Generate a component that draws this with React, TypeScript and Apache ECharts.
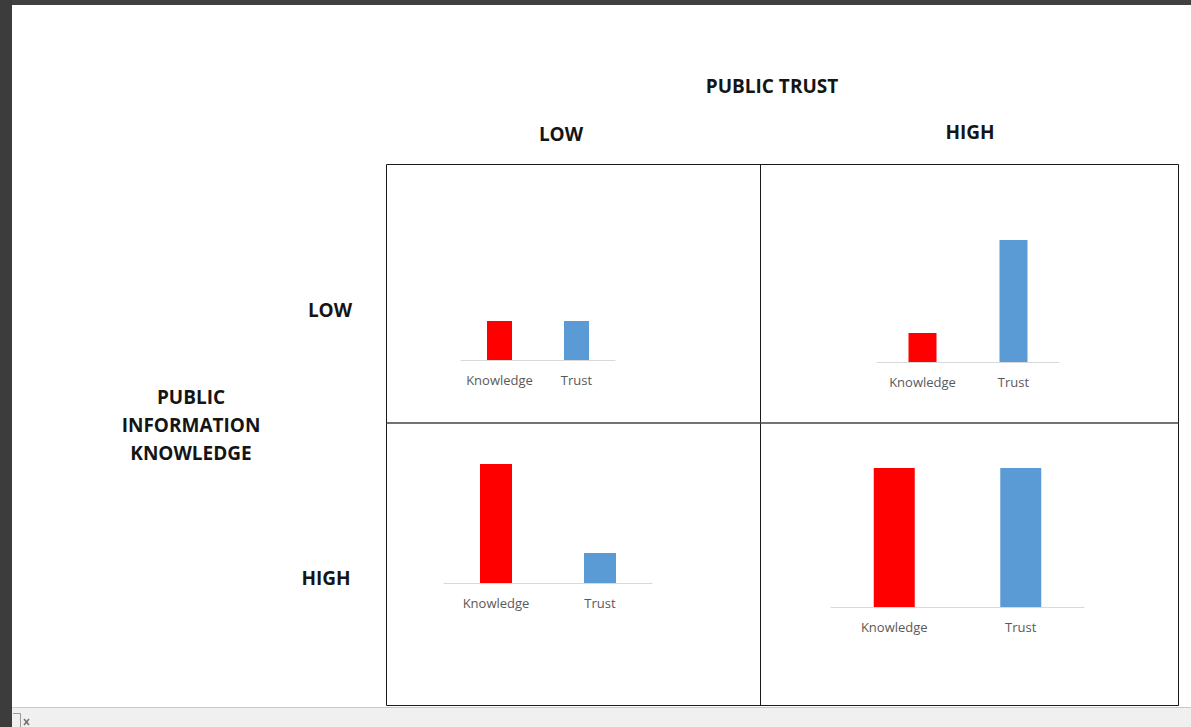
import React, { useEffect, useRef } from "react";
import * as echarts from "echarts";

// ---- data ----
const categories = ["Knowledge", "Trust"];
// bar heights (relative units, each panel is its own small chart)
const lowKnowledgeLowTrust = [39, 39];
const lowKnowledgeHighTrust = [29, 122];
const highKnowledgeLowTrust = [119, 30];
const highKnowledgeHighTrust = [139, 139];
const barColors = ["#ff0000", "#5b9bd5"];

const topTitle = "PUBLIC TRUST";
const colLabels = ["LOW", "HIGH"];
const rowLabels = ["LOW", "HIGH"];
const sideTitle = ["PUBLIC", "INFORMATION", "KNOWLEDGE"];

export default function App() {
  const ref = useRef<HTMLDivElement>(null);
  useEffect(() => {
    if (!ref.current) return;
    const chart = echarts.init(ref.current, undefined, { renderer: "svg" });

    const panels = [
      { data: lowKnowledgeLowTrust, left: 461, width: 154, base: 360, bw: 25 },
      { data: lowKnowledgeHighTrust, left: 877, width: 182, base: 362, bw: 28 },
      { data: highKnowledgeLowTrust, left: 444, width: 208, base: 583, bw: 32 },
      { data: highKnowledgeHighTrust, left: 831, width: 253, base: 607, bw: 41 },
    ];
    const H = 160;

    const grid = panels.map((p) => ({
      left: p.left,
      width: p.width,
      top: p.base - H,
      height: H,
      containLabel: false,
    }));
    const xAxis = panels.map((_, i) => ({
      type: "category" as const,
      gridIndex: i,
      data: categories,
      axisLine: { show: true, lineStyle: { color: "#d9d9d9", width: 1 } },
      axisTick: { show: false },
      axisLabel: {
        color: "#595959",
        fontFamily: "Open Sans",
        fontSize: 13,
        margin: 13,
        interval: 0,
        hideOverlap: false,
      },
      splitLine: { show: false },
    }));
    const yAxis = panels.map((_, i) => ({
      type: "value" as const,
      gridIndex: i,
      min: 0,
      max: H,
      show: false,
      splitLine: { show: false },
    }));
    const series = panels.map((p, i) => ({
      type: "bar" as const,
      xAxisIndex: i,
      yAxisIndex: i,
      barWidth: p.bw,
      data: p.data.map((v, j) => ({ value: v, itemStyle: { color: barColors[j] } })),
    }));

    const titleFont = {
      fontFamily: "Open Sans",
      fontWeight: "bold" as const,
      fontSize: 19,
      fill: "#151515",
      textAlign: "center" as const,
      textVerticalAlign: "middle" as const,
    };

    const boxLine = { stroke: "#1a1a1a", lineWidth: 1 };

    const graphic: any[] = [
      // window frame
      { type: "rect", shape: { x: 0, y: 0, width: 1191, height: 5 }, style: { fill: "#404040" }, silent: true },
      { type: "rect", shape: { x: 0, y: 0, width: 12, height: 727 }, style: { fill: "#3c3c3c" }, silent: true },
      { type: "rect", shape: { x: 12, y: 707, width: 1179, height: 20 }, style: { fill: "#f0f0f0" }, silent: true },
      { type: "line", shape: { x1: 12, y1: 707.5, x2: 1191, y2: 707.5 }, style: { stroke: "#c8c8c8", lineWidth: 1 }, silent: true },
      { type: "polyline", shape: { points: [[13, 713.5], [20.5, 713.5], [20.5, 727]] }, style: { stroke: "#9a9a9a", lineWidth: 1, fill: "none" }, silent: true },
      { type: "line", shape: { x1: 24, y1: 719, x2: 29, y2: 725 }, style: { stroke: "#707070", lineWidth: 1.5 }, silent: true },
      { type: "line", shape: { x1: 29, y1: 719, x2: 24, y2: 725 }, style: { stroke: "#707070", lineWidth: 1.5 }, silent: true },
      // matrix box
      { type: "rect", shape: { x: 386.5, y: 164.5, width: 792, height: 541 }, style: { fill: "none", ...boxLine }, silent: true },
      { type: "line", shape: { x1: 760.5, y1: 164.5, x2: 760.5, y2: 705.5 }, style: boxLine, silent: true },
      { type: "line", shape: { x1: 386.5, y1: 423, x2: 1178.5, y2: 423 }, style: { stroke: "#444", lineWidth: 1.5 }, silent: true },
      // titles
      { type: "text", x: 772, y: 86, style: { text: topTitle, ...titleFont }, silent: true },
      { type: "text", x: 561, y: 134, style: { text: colLabels[0], ...titleFont }, silent: true },
      { type: "text", x: 970, y: 132, style: { text: colLabels[1], ...titleFont }, silent: true },
      { type: "text", x: 330, y: 310, style: { text: rowLabels[0], ...titleFont }, silent: true },
      { type: "text", x: 326, y: 578, style: { text: rowLabels[1], ...titleFont }, silent: true },
      ...sideTitle.map((t, i) => ({
        type: "text",
        x: 191,
        y: 397 + i * 28,
        style: { text: t, ...titleFont },
        silent: true,
      })),
    ];

    chart.setOption({
      animation: false,
      backgroundColor: "#ffffff",
      grid,
      xAxis,
      yAxis,
      series,
      graphic,
    });
    return () => chart.dispose();
  }, []);

  return (
    <div
      ref={ref}
      style={{ position: "absolute", left: 0, top: 0, width: 1191, height: 727 }}
    />
  );
}
